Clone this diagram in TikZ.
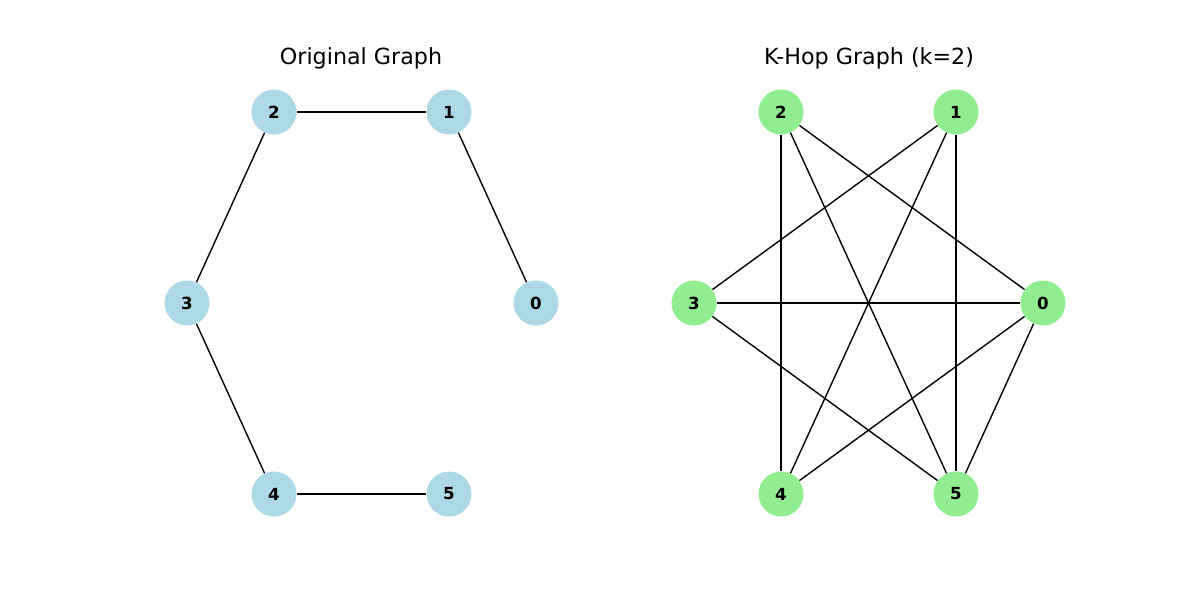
\documentclass[tikz,border=0pt]{standalone}
\usepackage{fontspec}
\setmainfont{DejaVu Sans}
\begin{document}
\begin{tikzpicture}[x=0.72pt,y=-0.72pt,
  vb/.style={circle,inner sep=0pt,minimum size=32.4pt,font=\bfseries\fontsize{12}{12}\selectfont},
  bl/.style={vb,fill={rgb,255:red,173;green,216;blue,230}},
  gr/.style={vb,fill={rgb,255:red,144;green,238;blue,144}},
  ed/.style={draw=black,line width=1pt},
  ttl/.style={font=\fontsize{16}{18}\selectfont,inner sep=0pt}]
\useasboundingbox (0,0) rectangle (1200,600);
% left
\node[ttl] (t1) at (361,58) {Original Graph};
\node[bl] (a2) at (274,112) {2};
\node[bl] (a1) at (449,112) {1};
\node[bl] (a3) at (187,303) {3};
\node[bl] (a0) at (536,303) {0};
\node[bl] (a4) at (274,494) {4};
\node[bl] (a5) at (449,494) {5};
% right
\node[ttl] (t2) at (869,58) {K-Hop Graph (k=2)};
\node[gr] (b2) at (781,112) {2};
\node[gr] (b1) at (956,112) {1};
\node[gr] (b3) at (694,303) {3};
\node[gr] (b0) at (1043,303) {0};
\node[gr] (b4) at (781,494) {4};
\node[gr] (b5) at (956,494) {5};
\draw[ed] (a2) -- (a1);
\draw[ed] (a1) -- (a0);
\draw[ed] (a2) -- (a3);
\draw[ed] (a3) -- (a4);
\draw[ed] (a4) -- (a5);
\draw[ed] (b2) -- (b4);
\draw[ed] (b2) -- (b5);
\draw[ed] (b2) -- (b0);
\draw[ed] (b1) -- (b3);
\draw[ed] (b1) -- (b4);
\draw[ed] (b1) -- (b5);
\draw[ed] (b3) -- (b0);
\draw[ed] (b3) -- (b5);
\draw[ed] (b0) -- (b4);
\draw[ed] (b0) -- (b5);
\end{tikzpicture}
\end{document}
